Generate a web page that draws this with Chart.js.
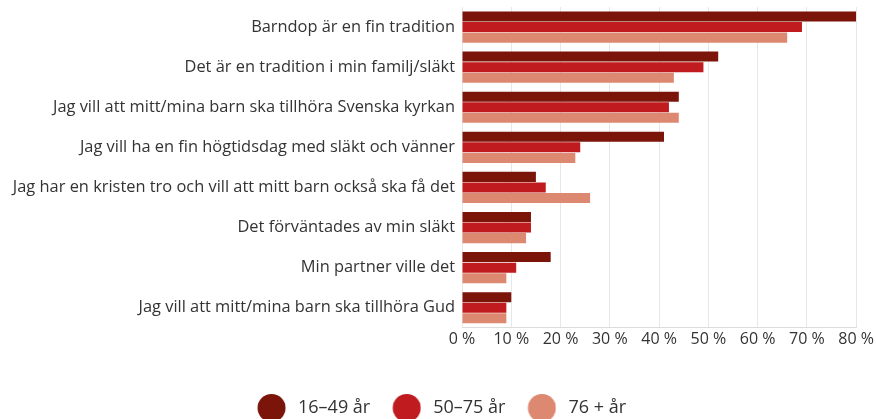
<!DOCTYPE html>
<html>
<head>
<meta charset="utf-8">
<script src="https://cdn.jsdelivr.net/npm/chart.js@4.4.1/dist/chart.umd.min.js"></script>
<style>
  html, body { margin: 0; padding: 0; background: #fff; }
  #wrap { width: 876px; height: 419px; }
</style>
</head>
<body>
<div id="wrap"><canvas id="chart"></canvas></div>
<script>

// Data
const categories = [
    "Barndop är en fin tradition",
    "Det är en tradition i min familj/släkt",
    "Jag vill att mitt/mina barn ska tillhöra Svenska kyrkan",
    "Jag vill ha en fin högtidsdag med släkt och vänner",
    "Jag har en kristen tro och vill att mitt barn också ska få det",
    "Det förväntades av min släkt",
    "Min partner ville det",
    "Jag vill att mitt/mina barn ska tillhöra Gud"
];

const seriesNames = ["16–49 år", "50–75 år", "76 + år"];

const young = [80, 52, 44, 41, 15, 14, 18, 10];
const middle = [69, 49, 42, 24, 17, 14, 11, 9];
const old = [66, 43, 44, 23, 26, 13, 9, 9];

const xTicks = [0, 10, 20, 30, 40, 50, 60, 70, 80];

const colors = ["#7b1409", "#c01b1e", "#dd8870"];

const fontFamily = "'Open Sans', sans-serif";


// round legend marker, drawn a bit right of the box centre
function marker(color) {
    const c = document.createElement("canvas");
    c.width = 44;
    c.height = 30;
    const g = c.getContext("2d");
    g.fillStyle = color;
    g.beginPath();
    g.arc(29.5, 15, 14, 0, Math.PI * 2);
    g.fill();
    return c;
}


const ctx = document.getElementById("chart").getContext("2d");

new Chart(ctx, {

    type: "bar",

    data: {
        labels: categories,
        datasets: [young, middle, old].map(function (values, i) {
            return {
                label: seriesNames[i],
                data: values,
                backgroundColor: colors[i],
                pointStyle: marker(colors[i]),
                borderWidth: 0,
                categoryPercentage: 0.79,
                barPercentage: 0.95
            };
        })
    },

    options: {
        indexAxis: "y",
        responsive: true,
        maintainAspectRatio: false,
        animation: false,
        layout: {
            // legend keeps 10px under itself, pull it down a bit
            padding: { top: 7, right: 19, left: 8, bottom: -8 }
        },
        scales: {
            x: {
                min: 0,
                max: 80,
                afterBuildTicks: function (scale) {
                    scale.ticks = xTicks.map(function (v) { return { value: v }; });
                },
                grid: { color: "#e8e8e8", drawTicks: false, lineWidth: 1 },
                border: { display: true, color: "#dcdcdc" },
                ticks: {
                    color: "#333",
                    padding: 2,
                    font: { family: fontFamily, size: 16 },
                    callback: function (v) { return v + " %"; }
                }
            },
            y: {
                afterFit: function (scale) {
                    scale.width = 454;
                    scale.paddingTop = 0;
                    scale.paddingBottom = 0;
                },
                grid: { display: false, drawTicks: false },
                border: { display: false },
                ticks: {
                    color: "#333",
                    padding: 7,
                    font: { family: fontFamily, size: 16.4 }
                }
            }
        },
        plugins: {
            tooltip: { enabled: false },
            legend: {
                position: "bottom",
                title: {
                    display: true,
                    text: "",
                    font: { size: 10 },
                    padding: { top: 32, bottom: 0 }
                },
                labels: {
                    usePointStyle: true,
                    pointStyleWidth: 50,
                    padding: 4,
                    color: "#333",
                    font: { family: fontFamily, size: 18 }
                }
            }
        }
    }

});

</script>
</body>
</html>
